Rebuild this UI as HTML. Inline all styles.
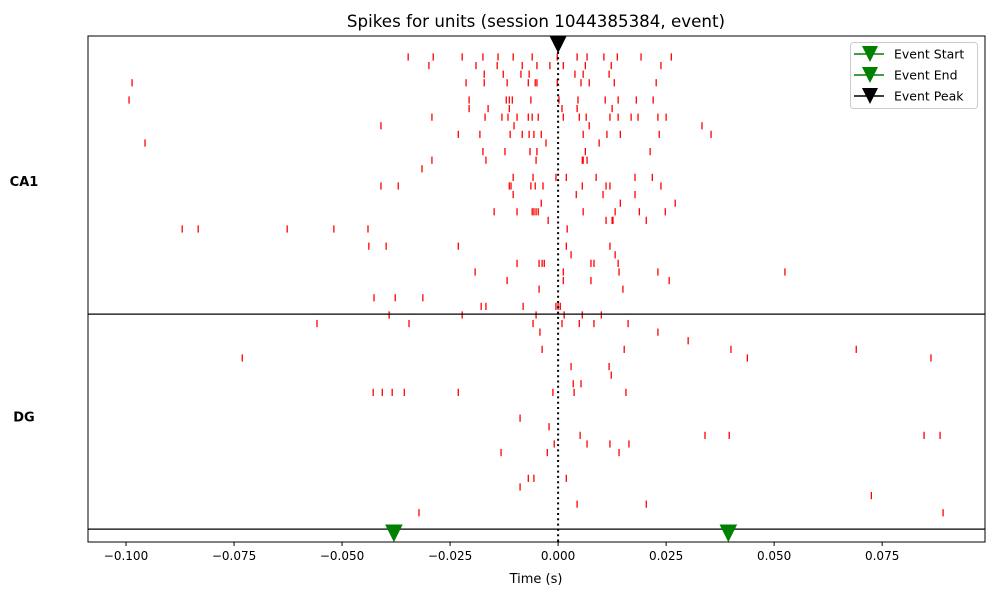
<!DOCTYPE html>
<html><head><meta charset="utf-8"><style>
html,body{margin:0;padding:0;background:#fff;}
svg{display:block;font-family:"DejaVu Sans","Liberation Sans",sans-serif;}
</style></head><body>
<svg id="chart" width="1000" height="600" viewBox="0 0 1000 600" xmlns="http://www.w3.org/2000/svg"></svg>
<script>
// spike times in ms, one array per unit row
const spikesMs = [
[-34.7,-28.9,-22.2,-17.4,-13.9,-10.4,-6.0,-0.2,4.4,6.7,10.6,13.7,19.2,26.2],
[-29.9,-19.0,-14.1,-8.3,-4.9,-1.9,1.2,6.3,12.3,23.8],
[-17.1,-12.7,-8.6,-6.7,3.9,5.8,11.8],
[-98.6,-21.3,-17.1,-11.8,-6.9,-5.3,-4.9,-0.2,5.3,7.2,13.0,22.7],
[],
[-99.3,-20.6,-12.0,-11.3,-10.6,-6.3,0.2,4.6,10.9,13.9,18.1,22.0],
[-20.6,-16.2,-11.3,0.9,4.4,12.5],
[-29.2,-16.9,-13.0,-11.6,-9.5,-6.9,-6.0,-4.6,1.2,4.9,6.5,12.0,13.9,16.9,18.5,23.1,25.0],
[-41.0,-10.2,7.2,33.3],
[-23.1,-18.1,-11.1,-8.3,-6.7,-5.6,-3.9,5.8,11.3,14.4,23.4,35.4],
[-95.6,-2.8,9.5],
[-17.4,-12.3,-6.5,-4.9,6.3,21.3],
[-29.2,-16.7,-5.1,5.6,5.8,6.7],
[-31.5],
[-10.4,-5.8,-0.5,1.9,8.8,17.8,21.8],
[-41.0,-37.0,-11.3,-10.9,-6.3,-5.3,-3.5,5.6,11.1,12.0,23.8],
[-10.4,4.2,10.4,17.8],
[-3.9,14.4,27.1],
[-14.8,-9.5,-6.0,-5.6,-5.1,-4.6,5.8,13.2,18.8,24.8],
[-2.3,11.1,12.5,12.7,20.4],
[-87.0,-83.3,-62.7,-51.9,-44.0,2.1],
[],
[-43.8,-39.8,-23.1,1.9,12.0],
[3.0,13.2],
[-9.5,-4.4,-3.7,-3.2,7.6,8.3,13.9],
[-19.2,1.2,14.1,23.1,52.5],
[-11.8,1.2,7.6,25.7],
[-4.4,15.0],
[-42.6,-37.7,-31.3],
[-17.8,-16.7,-8.1,-0.5,0,0.5],
[-39.1,-22.2,-5.1,1.4,5.6,10.0],
[-55.8,-34.5,-5.8,0.9,4.9,8.3,16.2],
[-4.2,23.1],
[30.1],
[-3.7,15.3,40.0,69.0],
[-73.1,43.8,86.3],
[3.0,11.8],
[12.3],
[3.5,5.3],
[-42.8,-40.7,-38.4,-35.6,-23.1,-1.2,3.7,15.7],
[],
[],
[-8.8],
[-2.1],
[5.1,34.0,39.6,84.7,88.4],
[-0.9,6.7,12.0,16.4],
[-13.2,-2.5,14.1],
[],
[],
[-6.9,-5.6,1.9],
[-8.8],
[72.5],
[4.4,20.4],
[-32.2,89.1]
];
const regionNames = ["CA1","DG"];
const regionLabelRows = [14.55,41.95];
const regionSeparators = [29.9,54.9];
const xTicks = [-0.100,-0.075,-0.050,-0.025,0.000,0.025,0.050,0.075];
const xTickLabels = ["\u22120.100","\u22120.075","\u22120.050","\u22120.025","0.000","0.025","0.050","0.075"];
const eventStart = -0.038, eventEnd = 0.0394, eventPeak = 0.0;

const svg = document.getElementById('chart');
const NS = 'http://www.w3.org/2000/svg';
const L=88, R=985, T=36, B=542;
const xMin=-0.1088, xMax=0.0988;
const rowMin=-2.44, rowMax=56.4;
function xs(t){return L+(t-xMin)/(xMax-xMin)*(R-L);}
function ys(r){return T+(r-rowMin)/(rowMax-rowMin)*(B-T);}
function mk(tag,attrs,parent){const e=document.createElementNS(NS,tag);for(const k in attrs)e.setAttribute(k,attrs[k]);(parent||svg).appendChild(e);return e;}

let t=mk('text',{x:536,y:27,'text-anchor':'middle','font-size':16.7,fill:'#000'});


t.textContent='Spikes for units (session 1044385384, event)';

const g=mk('g',{});


spikesMs.forEach((row,i)=>{
  row.forEach(ms=>{
    const x=xs(ms/1000), y=ys(i);
    const l=mk('line',{x1:x,x2:x,y1:y-3.6,y2:y+3.6,stroke:'#ff0000','stroke-width':1.3},g);
    
    
  });
});

regionSeparators.forEach(r=>{
  const l=mk('line',{x1:L,x2:R,y1:ys(r),y2:ys(r),stroke:'#000','stroke-width':1.2});
  
  
});

regionNames.forEach((n,i)=>{
  const e=mk('text',{x:24,y:ys(regionLabelRows[i])+4,'text-anchor':'middle','font-size':13,'font-weight':'bold',fill:'#000'});
  
  
  e.textContent=n;
});

const pl=mk('line',{x1:xs(eventPeak),x2:xs(eventPeak),y1:T,y2:B,stroke:'#000','stroke-width':2,'stroke-dasharray':'2,3.3'});



function tri(cx,cy,color,name){
  const p=mk('path',{d:`M${cx-8},${cy-8} L${cx+8},${cy-8} L${cx},${cy+8} Z`,fill:color,stroke:color,'stroke-width':1});
  
  
}
tri(xs(eventPeak),44,'#000','event-peak-marker');
tri(xs(eventStart),533,'#008000','event-start-marker');
tri(xs(eventEnd),533,'#008000','event-end-marker');

const fr=mk('rect',{x:L,y:T,width:R-L,height:B-T,fill:'none',stroke:'#000','stroke-width':1});



xTicks.forEach((v,i)=>{
  const x=xs(v);
  const l=mk('line',{x1:x,x2:x,y1:B,y2:B+4,stroke:'#000','stroke-width':1});
  
  
  const tx=mk('text',{x:x,y:B+18,'text-anchor':'middle','font-size':12,fill:'#000'});
  
  
  tx.textContent=xTickLabels[i];
});
const xl=mk('text',{x:536,y:583,'text-anchor':'middle','font-size':13,fill:'#000'});


xl.textContent='Time (s)';

const lg=mk('g',{});


mk('rect',{x:850.5,y:42.5,width:127,height:66,rx:3,fill:'#fff','fill-opacity':0.85,stroke:'#ccc'},lg);
[['Event Start','#008000',54],['Event End','#008000',75],['Event Peak','#000',96]].forEach(([lab,c,y])=>{
  const e=mk('g',{},lg);
  
  
  mk('line',{x1:854,x2:884,y1:y,y2:y,stroke:c,'stroke-width':1.5},e);
  mk('path',{d:`M${862},${y-8} L${878},${y-8} L${870},${y+8} Z`,fill:c},e);
  const tx=mk('text',{x:894,y:y+4.5,'font-size':12.5,fill:'#000'},e);
  tx.textContent=lab;
});
</script>
</body></html>
